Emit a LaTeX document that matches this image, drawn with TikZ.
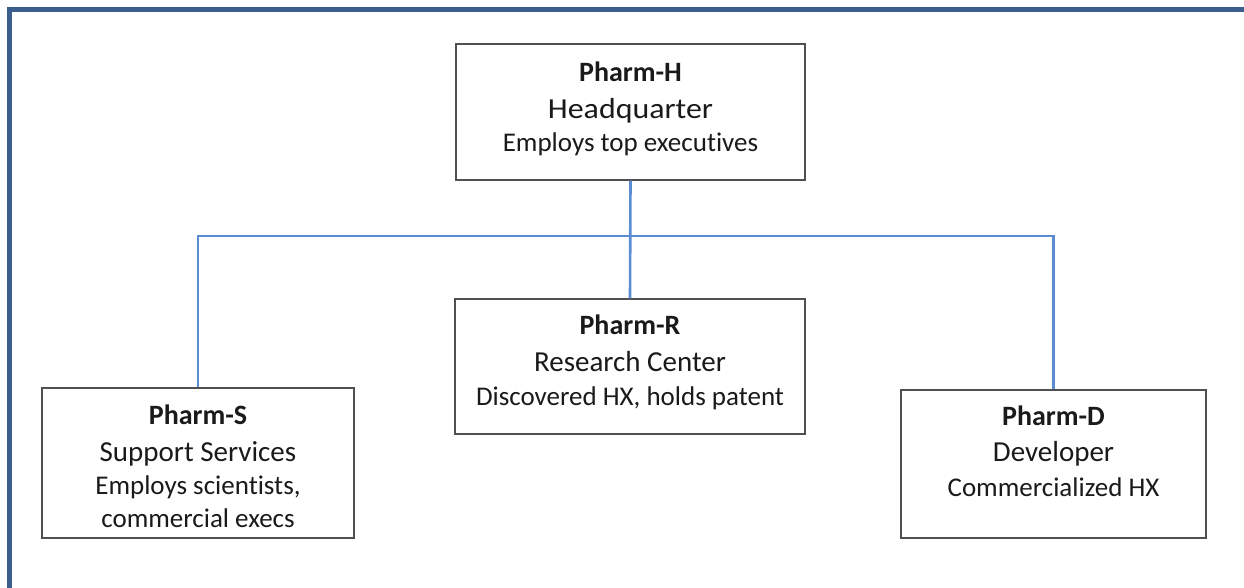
\documentclass[tikz,border=0pt]{standalone}
\usepackage{fontspec}
\usepackage{graphicx}
\setmainfont{Carlito}[Ligatures=CommonOff]
\usetikzlibrary{calc}
\definecolor{frameblue}{HTML}{3A5F8F}
\definecolor{linkblue}{HTML}{5B8CD2}
\definecolor{boxgray}{HTML}{505050}
\definecolor{txt}{HTML}{1A1A1A}
\begin{document}
\begin{tikzpicture}[x=1pt,y=-1pt,
  box/.style={draw=boxgray,line width=1.4pt,fill=white,inner sep=0pt},
  tone/.style={anchor=base,inner sep=0pt,text=txt,font=\bfseries\fontsize{28}{30}\selectfont},
  ttwo/.style={anchor=base,inner sep=0pt,text=txt,font=\fontsize{29}{30}\selectfont},
  tthree/.style={anchor=base,inner sep=0pt,text=txt,font=\fontsize{27}{28}\selectfont},
  link/.style={draw=linkblue,line width=2.6pt},
  frame/.style={draw=frameblue,line width=4.5pt}]
\useasboundingbox (0,0) rectangle (1244,587);
\draw[frame] (9.5,600) -- (9.5,9.5) -- (1250,9.5);
% boxes
\node[box,minimum width=349pt,minimum height=136pt] (H) at (630.5,112) {};
\node[box,minimum width=350pt,minimum height=135pt] (R) at (630,366.5) {};
\node[box,minimum width=312pt,minimum height=150pt] (S) at (198,463) {};
\node[box,minimum width=305pt,minimum height=148pt] (D) at (1053.5,464) {};
% connectors
\coordinate (bus) at (630,236);
\draw[link] (H.south) -- (R.north);
\draw[link] (S.north) -- (S.north |- bus) -- (D.north |- bus) -- (D.north);
% texts
\node[tone]   (H1) at ($(H.north)+(0,38)$) {Pharm-H};
\node[ttwo]   (H2) at ($(H.north)+(0,75)$) {\scalebox{1.1}[1]{Headquarter}};
\node[tthree] (H3) at ($(H.north)+(0,108.5)$) {Employs top executives};
\node[tone]   (R1) at ($(R.north)+(0,36.5)$) {Pharm-R};
\node[ttwo]   (R2) at ($(R.north)+(0,73)$) {Research Center};
\node[tthree] (R3) at ($(R.north)+(0,107)$) {Discovered HX, holds patent};
\node[tone]   (S1) at ($(S.north)+(0,37)$) {Pharm-S};
\node[ttwo]   (S2) at ($(S.north)+(0,74)$) {Support Services};
\node[tthree] (S3) at ($(S.north)+(0,107)$) {Employs scientists,};
\node[tthree] (S4) at ($(S.north)+(0,140)$) {commercial execs};
\node[tone]   (D1) at ($(D.north)+(0,36)$) {Pharm-D};
\node[ttwo]   (D2) at ($(D.north)+(0,72.5)$) {Developer};
\node[tthree] (D3) at ($(D.north)+(0,107)$) {Commercialized HX};
\end{tikzpicture}
\end{document}
